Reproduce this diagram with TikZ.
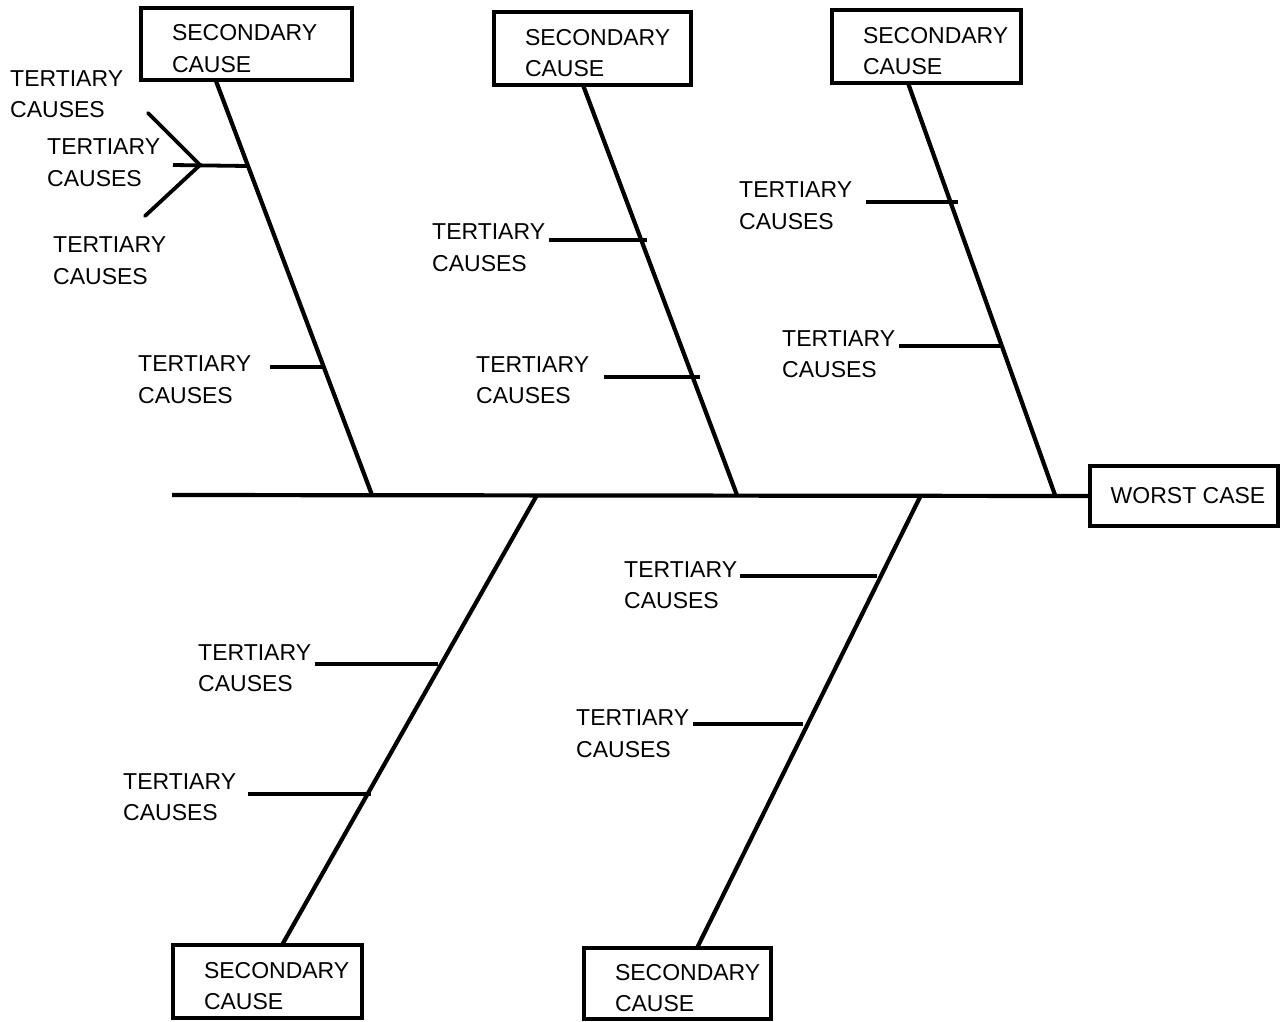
\documentclass[tikz,border=0pt]{standalone}
\usepackage{fontspec}
\setmainfont{Liberation Sans}
\begin{document}
\begin{tikzpicture}[x=1pt,y=-1pt,
  lbl/.style={anchor=west,align=left,inner sep=0pt,font=\fontsize{23}{31.5}\selectfont},
  boxnode/.style={draw,line width=3.2pt,inner xsep=31pt,inner ysep=0pt,align=left,minimum height=72pt,font=\fontsize{23}{31.5}\selectfont},
  bone/.style={line width=4.2pt},
  twig/.style={line width=3.8pt}]
\useasboundingbox (0,0) rectangle (1288,1021);
% effect box and spine
\node[draw,line width=3.2pt,minimum width=188pt,minimum height=60pt,inner sep=0pt,font=\fontsize{23}{31.5}\selectfont] (worst) at (1184,496) {\hspace{8pt}WORST CASE};
\coordinate (sp) at (172,495);
\draw[bone] (sp) -- (worst.west);
% secondary boxes
\node[boxnode,text width=149pt] (s1) at (246.5,44) {\rule{0pt}{25pt}SECONDARY\\CAUSE};
\node[boxnode,text width=135pt,minimum height=73pt] (s2) at (592.5,48.5) {\rule{0pt}{25pt}SECONDARY\\CAUSE};
\node[boxnode,text width=127pt,minimum height=73pt] (s3) at (926.5,46.5) {\rule{0pt}{25pt}SECONDARY\\CAUSE};
\node[boxnode,text width=127pt,minimum height=73pt] (s4) at (267.5,981.5) {\rule{0pt}{25pt}SECONDARY\\CAUSE};
\node[boxnode,text width=125pt,minimum height=71pt] (s5) at (677.5,983.5) {\rule{0pt}{25pt}SECONDARY\\CAUSE};
% bone ends on spine
\coordinate (j1) at (372,495);
\coordinate (j2) at (737,495);
\coordinate (j3) at (1055,495);
\coordinate (j4) at (537,495);
\coordinate (j5) at (921,495);
\draw[bone] (216,81) coordinate (b1) -- (j1);
\draw[bone] (583,85) coordinate (b2) -- (j2);
\draw[bone] (908,83) coordinate (b3) -- (j3);
\draw[bone] (j4) -- (282,945) coordinate (b4);
\draw[bone] (j5) -- (697,948) coordinate (b5);
% tertiary labels
\node[lbl] (ta1) at (10,94) {TERTIARY\\CAUSES};
\node[lbl] (ta2) at (47,162.5) {TERTIARY\\CAUSES};
\node[lbl] (ta3) at (53,260.5) {TERTIARY\\CAUSES};
\node[lbl] (ta4) at (138,379.5) {TERTIARY\\CAUSES};
\node[lbl] (tb1) at (432,247.5) {TERTIARY\\CAUSES};
\node[lbl] (tb2) at (476,380) {TERTIARY\\CAUSES};
\node[lbl] (tc1) at (739,205.5) {TERTIARY\\CAUSES};
\node[lbl] (tc2) at (782,354) {TERTIARY\\CAUSES};
\node[lbl] (td1) at (198,668) {TERTIARY\\CAUSES};
\node[lbl] (td2) at (123,797) {TERTIARY\\CAUSES};
\node[lbl] (te1) at (624,585) {TERTIARY\\CAUSES};
\node[lbl] (te2) at (576,733.5) {TERTIARY\\CAUSES};
% twigs
\coordinate (fk) at (200,165);
\draw[twig] (173,165) coordinate (fa) -- (247,166) coordinate (fb);
\draw[twig,line cap=round] (148,113) coordinate (fu) -- (fk);
\draw[twig,line cap=round] (145,216) coordinate (fl) -- (fk);
\draw[twig] (270,367) coordinate (a4s) -- (322,367) coordinate (a4e);
\draw[twig] (549,240) coordinate (b1s) -- (647,240) coordinate (b1e);
\draw[twig] (604,377) coordinate (b2s) -- (700,377) coordinate (b2e);
\draw[twig] (866,202) coordinate (c1s) -- (958,202) coordinate (c1e);
\draw[twig] (899,346) coordinate (c2s) -- (1001,346) coordinate (c2e);
\draw[twig] (315,664) coordinate (d1s) -- (438,664) coordinate (d1e);
\draw[twig] (248,794) coordinate (d2s) -- (371,794) coordinate (d2e);
\draw[twig] (740,576) coordinate (e1s) -- (877,576) coordinate (e1e);
\draw[twig] (693,724) coordinate (e2s) -- (803,724) coordinate (e2e);
\end{tikzpicture}
\end{document}
